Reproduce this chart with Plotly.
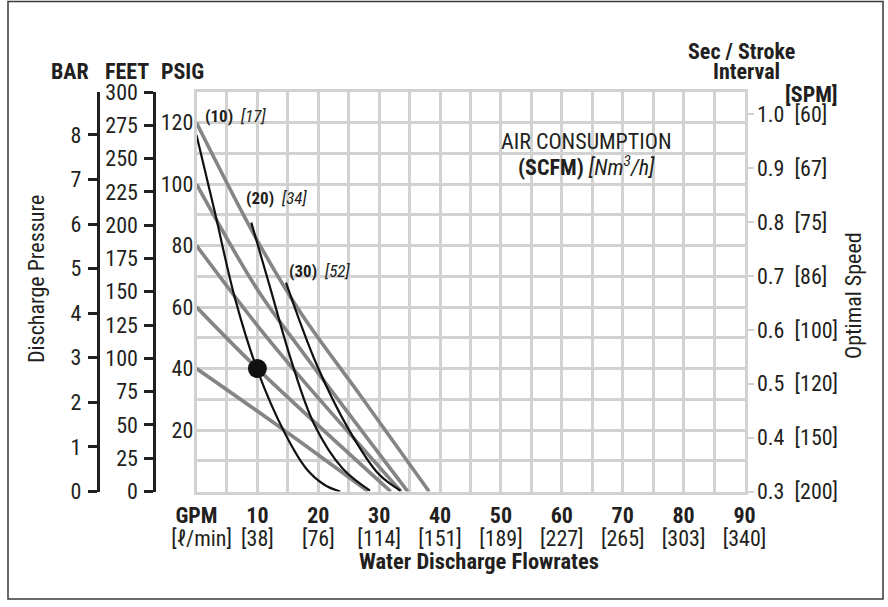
import plotly.graph_objects as go

W, H = 888, 607
FONT = "Liberation Sans Narrow, Roboto Condensed, DejaVu Sans Condensed, Arial Narrow, sans-serif"
TXT = "#231f20"
GRID = "#d2d2d2"
GRAY = "#858585"

# ---------------- data ----------------
gpm_ticks = [0, 10, 20, 30, 40, 50, 60, 70, 80, 90]
gpm_labels = ["GPM", "10", "20", "30", "40", "50", "60", "70", "80", "90"]
gpm_minor = [5, 15, 25, 35, 45, 55, 65, 75, 85]
lpm_labels = ["\u00a0\u00a0[ℓ/min]", "[38]", "[76]", "[114]", "[151]", "[189]", "[227]", "[265]", "[303]", "[340]"]
psi_ticks = [20, 40, 60, 80, 100, 120]
psi_minor = [0, 10, 30, 50, 70, 90, 110, 130]
feet_ticks = [0, 25, 50, 75, 100, 125, 150, 175, 200, 225, 250, 275, 300]
bar_ticks = [0, 1, 2, 3, 4, 5, 6, 7, 8]
sec_ticks = [0.3, 0.4, 0.5, 0.6, 0.7, 0.8, 0.9, 1.0]
spm_labels = [200, 150, 120, 100, 86, 75, 67, 60]

# air pressure lines (gray)
g120_x = [0, 9.9, 17.0, 27.0, 38.2]
g120_y = [120, 82, 58.5, 31.0, 0]
g100_x = [0, 10.1, 17.0, 34.7]
g100_y = [100, 65.4, 46.5, 0]
g80_x = [0, 10.0, 17.0, 33.6]
g80_y = [80, 54.0, 37.3, 0]
g60_x = [0, 10.0, 31.9]
g60_y = [60, 40.0, 0]
g40_x = [0, 14.0, 28.2]
g40_y = [40, 20.5, 0]

# air consumption curves (black)
a10_x = [0, 3.0, 6.3, 10.0, 14.5, 18.0, 21.0, 23.6]
a10_y = [116, 91, 63, 39.5, 19, 7.5, 2.2, 0]
a20_x = [9.0, 12.0, 15.5, 19.3, 24.0, 28.5]
a20_y = [87.5, 67, 43, 22, 7.5, 0.3]
a30_x = [14.7, 19.8, 25.2, 30.0, 33.5]
a30_y = [68, 41, 19.5, 5.5, 0.3]

dot_x = [10]
dot_y = [40]

air_labels = [("(10)", "[17]", 10), ("(20)", "[34]", 20), ("(30)", "[52]", 30)]

# ---------------- geometry helpers ----------------
def px(x):
    return x / W

def py(y):
    return 1 - y / H

X0, X1 = 196.5, 744.5
Y0, Y1 = 491.5, 92.0
PSI_MAX = 130.0
PSI_PER_BAR = 14.5038
SEC_TOP = 0.3 + (Y0 - Y1) / 539.0

fig = go.Figure()

for xs, ys in [(g120_x, g120_y), (g100_x, g100_y), (g80_x, g80_y), (g60_x, g60_y), (g40_x, g40_y)]:
    fig.add_trace(go.Scatter(x=xs, y=ys, mode="lines", line=dict(color=GRAY, width=3.6, shape="spline", smoothing=1.0),
                             hoverinfo="skip", showlegend=False))
for xs, ys in [(a10_x, a10_y), (a20_x, a20_y), (a30_x, a30_y)]:
    fig.add_trace(go.Scatter(x=xs, y=ys, mode="lines", line=dict(color="#111111", width=2.2, shape="spline", smoothing=1.0),
                             hoverinfo="skip", showlegend=False))
fig.add_trace(go.Scatter(x=dot_x, y=dot_y, mode="markers", marker=dict(color="#111111", size=19),
                         hoverinfo="skip", showlegend=False))

# anchor traces for the extra axes (invisible)
fig.add_trace(go.Scatter(x=[0], y=[0], xaxis="x2", yaxis="y", mode="markers", marker=dict(opacity=0), hoverinfo="skip", showlegend=False))
fig.add_trace(go.Scatter(x=[0], y=[0], xaxis="x", yaxis="y2", mode="markers", marker=dict(opacity=0), hoverinfo="skip", showlegend=False))
fig.add_trace(go.Scatter(x=[0], y=[0], xaxis="x", yaxis="y3", mode="markers", marker=dict(opacity=0), hoverinfo="skip", showlegend=False))
fig.add_trace(go.Scatter(x=[0], y=[0.3], xaxis="x", yaxis="y4", mode="markers", marker=dict(opacity=0), hoverinfo="skip", showlegend=False))

NUM = 22
tickfont = dict(family=FONT, size=NUM, color=TXT)
minor_x = dict(tickmode="array", tickvals=gpm_minor, showgrid=True, gridcolor=GRID, gridwidth=2.5, ticks="")
minor_y = dict(tickmode="array", tickvals=psi_minor, showgrid=True, gridcolor=GRID, gridwidth=2.5, ticks="")

fig.update_layout(
    width=W, height=H, margin=dict(l=0, r=0, t=0, b=0),
    paper_bgcolor="white", plot_bgcolor="white",
    font=dict(family=FONT, color=TXT),
    xaxis=dict(domain=[px(X0), px(X1)], range=[0, 90], tickmode="array", tickvals=gpm_ticks,
               ticktext=["<b>" + t + "</b>" for t in gpm_labels], minor=minor_x,
               showgrid=True, gridcolor=GRID, gridwidth=2.5, zeroline=False, showline=True, mirror=True,
               linecolor=GRID, linewidth=2.5, ticks="", tickfont=tickfont,
               ticklabelstandoff=2, automargin=False),
    xaxis2=dict(overlaying="x", anchor="y", side="bottom", range=[0, 90], tickmode="array",
                tickvals=gpm_ticks, ticktext=lpm_labels, showgrid=False, zeroline=False, showline=False,
                ticks="", tickfont=tickfont, ticklabelstandoff=31, automargin=False),
    yaxis=dict(domain=[py(Y0), py(Y1)], range=[0, PSI_MAX], tickmode="array", tickvals=psi_ticks,
               minor=minor_y, showgrid=True, gridcolor=GRID, gridwidth=2.5, zeroline=False, showline=True,
               mirror=True, linecolor=GRID, linewidth=2.5, ticks="", tickfont=tickfont, ticklabelstandoff=-4,
               automargin=False),
    yaxis2=dict(overlaying="y", anchor="free", position=px(154.3), side="left", range=[0, 300],
                tickmode="array", tickvals=feet_ticks, ticks="outside", ticklen=9, tickwidth=2.5, tickcolor=TXT,
                showline=True, linecolor=TXT, linewidth=3, showgrid=False, zeroline=False,
                tickfont=tickfont, ticklabelstandoff=2, automargin=False),
    yaxis3=dict(overlaying="y", anchor="free", position=px(97.7), side="left", range=[0, PSI_MAX / PSI_PER_BAR],
                tickmode="array", tickvals=bar_ticks, ticks="outside", ticklen=9, tickwidth=2.5, tickcolor=TXT,
                showline=True, linecolor=TXT, linewidth=3, showgrid=False, zeroline=False,
                tickfont=tickfont, ticklabelstandoff=2, automargin=False),
    yaxis4=dict(overlaying="y", anchor="x", side="right", range=[0.3, SEC_TOP], tickmode="array",
                tickvals=sec_ticks, ticktext=[f"{s:.1f}\u00a0\u00a0[{n}]" for s, n in zip(sec_ticks, spm_labels)],
                ticks="outside", ticklen=8, tickwidth=2, tickcolor=GRID, showline=False, showgrid=False,
                zeroline=False, tickfont=tickfont, ticklabelstandoff=-1, automargin=False),
)

# white box behind air consumption title
fig.add_shape(type="rect", xref="paper", yref="paper", x0=px(494), x1=px(682), y0=py(179), y1=py(121),
              fillcolor="white", line=dict(width=0), layer="between")

# frame
fig.add_shape(type="rect", xref="paper", yref="paper", x0=px(8), x1=px(883), y0=py(599), y1=py(1.5),
              line=dict(color="#3a3a3a", width=1.5), fillcolor="rgba(0,0,0,0)")

def ann(text, x, y, size=22, angle=0, xanchor="center"):
    fig.add_annotation(text=text, x=px(x), y=py(y), xref="paper", yref="paper", showarrow=False,
                       xanchor=xanchor, yanchor="middle", textangle=angle,
                       font=dict(family=FONT, size=size, color=TXT))

ann("<b>BAR</b>", 70, 72)
ann("<b>FEET</b>", 127, 72)
ann("<b>PSIG</b>", 182, 72)
ann("Discharge Pressure", 36, 279, size=22, angle=-90)
ann("Optimal Speed", 853, 296, size=22, angle=-90)
ann("<b>Sec / Stroke</b>", 741, 51)
ann("<b>Interval</b>", 746, 72)
ann("<b>[SPM]</b>", 811, 94)
ann("<b>Water Discharge Flowrates</b>", 479, 561, size=22.5)
ann("AIR CONSUMPTION", 586, 141, size=22)
ann("<b>(SCFM)</b> <i>[Nm<sup>3</sup>/h]</i>", 586, 166, size=22)

label_pos = {10: (203, 116), 20: (244, 198), 30: (287, 271)}
for a, b, k in air_labels:
    x, y = label_pos[k]
    ann(f"<b>{a}</b>\u00a0\u00a0<i>{b}</i>", x, y, size=17, xanchor="left")

fig.write_html("out.html", config={"displayModeBar": False},
               post_script="document.body.style.margin='0px';document.body.style.padding='0px';")
